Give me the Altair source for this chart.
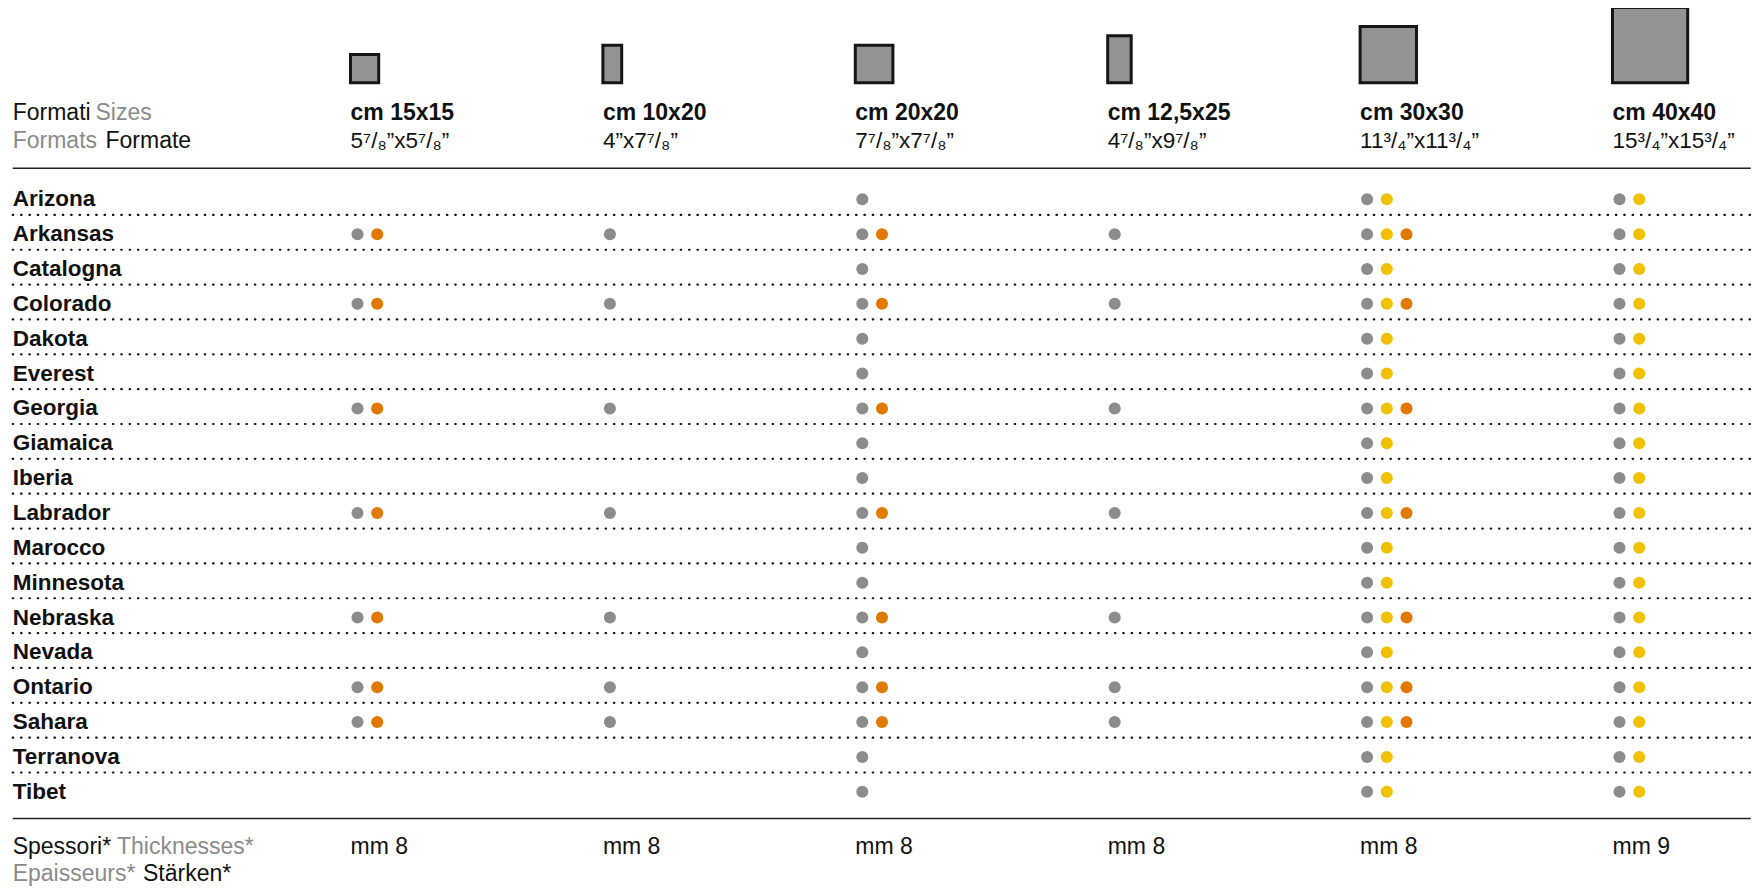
import altair as alt
import pandas as pd

# ---------------- data ----------------
collections = ["Arizona", "Arkansas", "Catalogna", "Colorado", "Dakota", "Everest",
               "Georgia", "Giamaica", "Iberia", "Labrador", "Marocco", "Minnesota",
               "Nebraska", "Nevada", "Ontario", "Sahara", "Terranova", "Tibet"]
formats = ["cm 15x15", "cm 10x20", "cm 20x20", "cm 12,5x25", "cm 30x30", "cm 40x40"]
inches = ["5⁷/₈”x5⁷/₈”", "4”x7⁷/₈”", "7⁷/₈”x7⁷/₈”", "4⁷/₈”x9⁷/₈”",
          "11³/₄”x11³/₄”", "15³/₄”x15³/₄”"]
tile_w_cm = [15, 10, 20, 12.5, 30, 40]
tile_h_cm = [15, 20, 20, 25, 30, 40]
thickness = ["mm 8", "mm 8", "mm 8", "mm 8", "mm 8", "mm 9"]

# availability per format, one code per collection (G grey, Y yellow, O orange)
avail_15x15 = ["", "GO", "", "GO", "", "", "GO", "", "", "GO", "", "", "GO", "", "GO", "GO", "", ""]
avail_10x20 = ["", "G", "", "G", "", "", "G", "", "", "G", "", "", "G", "", "G", "G", "", ""]
avail_20x20 = ["G", "GO", "G", "GO", "G", "G", "GO", "G", "G", "GO", "G", "G", "GO", "G", "GO", "GO", "G", "G"]
avail_12x25 = ["", "G", "", "G", "", "", "G", "", "", "G", "", "", "G", "", "G", "G", "", ""]
avail_30x30 = ["GY", "GYO", "GY", "GYO", "GY", "GY", "GYO", "GY", "GY", "GYO", "GY", "GY", "GYO", "GY", "GYO", "GYO", "GY", "GY"]
avail_40x40 = ["GY", "GY", "GY", "GY", "GY", "GY", "GY", "GY", "GY", "GY", "GY", "GY", "GY", "GY", "GY", "GY", "GY", "GY"]
availability = [avail_15x15, avail_10x20, avail_20x20, avail_12x25, avail_30x30, avail_40x40]

finish_codes = {"G": "grey", "Y": "yellow", "O": "orange"}
finish_names = ["grey", "yellow", "orange"]
finish_colors = ["#8c8c8c", "#f1c100", "#e17800"]

# ---------------- tables ----------------
fmt_df = pd.DataFrame({"col": list(range(len(formats))), "format": formats, "inch": inches,
                       "w": tile_w_cm, "h": tile_h_cm, "thick": thickness})
row_df = pd.DataFrame({"collection": collections})
dot_rows = []
for ci, codes in enumerate(availability):
    for ri, code in enumerate(codes):
        for slot, ch in enumerate(code):
            dot_rows.append({"col": ci, "collection": collections[ri], "slot": slot,
                             "finish": finish_codes[ch]})
dot_df = pd.DataFrame(dot_rows)
one = pd.DataFrame({"k": [0]})

# ---------------- layout / style ----------------
FONT = "Liberation Sans"
BLACK = "#111111"
GREY_TXT = "#8b8b8b"
COL_X0, COL_STEP = 342.5, 252.4
ROW_Y0, ROW_STEP = 181.3, 34.85
PX_CM = 1.88
DOT_X0, DOT_STEP = 7.0, 19.7
LEFT_X, RIGHT_X = 4.7, 1742.7

x_scale = alt.Scale(domain=[0, 5], range=[COL_X0, COL_X0 + 5 * COL_STEP], nice=False, zero=False)
y_rows = alt.Scale(type="point", domain=collections,
                   range=[ROW_Y0, ROW_Y0 + 17 * ROW_STEP], padding=0)
RECT_BASE = 64.8
y_tiles = alt.Scale(domain=[0, 40], range=[RECT_BASE, RECT_BASE - 40 * PX_CM], nice=False, zero=False)

X = lambda f: alt.X(f, scale=x_scale, axis=None)
YR = alt.Y("collection:N", scale=y_rows, axis=None)

# tiles (header squares)
tiles = alt.Chart(fmt_df).transform_calculate(
    x2=f"datum.col + datum.w * {PX_CM} / {COL_STEP}", base="0"
).mark_rect(fill="#939396", stroke="#161616", strokeWidth=3).encode(
    x=X("col:Q"), x2="x2:Q",
    y=alt.Y("h:Q", scale=y_tiles, axis=None), y2="base:Q",
)

def txt(**kw):
    base = dict(font=FONT, align="left", baseline="alphabetic", fontSize=23, color=BLACK)
    base.update(kw)
    return base

fmt_names = alt.Chart(fmt_df).mark_text(**txt(fontWeight="bold", fontSize=23)).encode(
    x=X("col:Q"), y=alt.value(102), text="format:N")
fmt_inch = alt.Chart(fmt_df).mark_text(**txt(fontSize=22.5)).encode(
    x=X("col:Q"), y=alt.value(130), text="inch:N")
fmt_thick = alt.Chart(fmt_df).mark_text(**txt()).encode(
    x=X("col:Q"), y=alt.value(835.5), text="thick:N")

def label(t, x, y, color):
    return alt.Chart(one).mark_text(**txt(color=color), text=t).encode(
        x=alt.value(x), y=alt.value(y))

labels = [
    label("Formati", LEFT_X, 102, BLACK),
    label("Sizes", 87.5, 102, GREY_TXT),
    label("Formats", LEFT_X, 130, GREY_TXT),
    label("Formate", 97.5, 130, BLACK),
    label("Spessori*", LEFT_X, 835.5, BLACK),
    label("Thicknesses*", 109.0, 835.5, GREY_TXT),
    label("Epaisseurs*", LEFT_X, 862.5, GREY_TXT),
    label("Stärken*", 135.0, 862.5, BLACK),
]

solid = [
    alt.Chart(one).mark_rule(color="#222222", strokeWidth=1.6).encode(
        x=alt.value(LEFT_X), x2=alt.value(RIGHT_X), y=alt.value(yv))
    for yv in (150.3, 800.5)
]

dotted = alt.Chart(row_df.iloc[:-1]).mark_rule(
    color=BLACK, strokeWidth=2.2, strokeDash=[0.5, 7.85], strokeCap="round"
).encode(x=alt.value(LEFT_X), x2=alt.value(RIGHT_X), y=YR, yOffset=alt.value(15.6))

row_labels = alt.Chart(row_df).mark_text(**txt(fontWeight="bold", baseline="middle", fontSize=22.5)).encode(
    x=alt.value(LEFT_X), y=YR, text="collection:N")

dots = alt.Chart(dot_df).transform_calculate(
    xd=f"datum.col + ({DOT_X0} + datum.slot * {DOT_STEP}) / {COL_STEP}"
).mark_circle(size=145, opacity=1).encode(
    x=X("xd:Q"), y=YR,
    color=alt.Color("finish:N", scale=alt.Scale(domain=finish_names, range=finish_colors), legend=None),
)

chart = alt.layer(
    tiles, fmt_names, fmt_inch, fmt_thick, *labels, *solid, dotted, row_labels, dots
).resolve_scale(y="independent").properties(
    width=1746, height=871,
    padding={"left": 0, "top": 10, "right": 0, "bottom": 0},
    autosize=alt.AutoSizeParams(type="none"),
    background="white",
).configure_view(stroke=None)

chart.save("out.html", embed_options={"renderer": "svg", "actions": False})
